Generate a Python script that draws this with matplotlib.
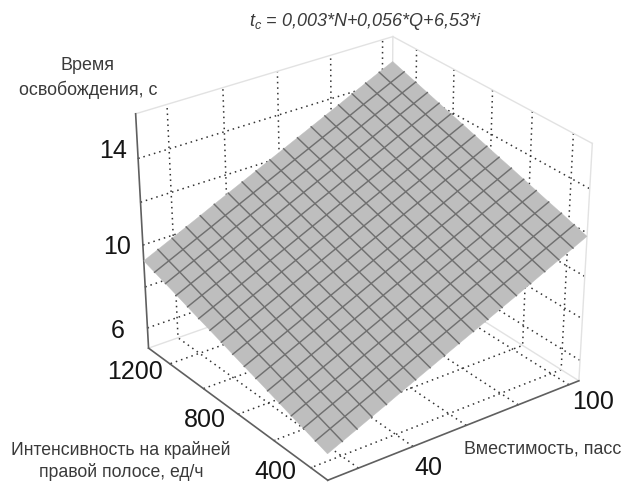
import numpy as np
import matplotlib
matplotlib.use('Agg')
import matplotlib.pyplot as plt

plt.rcParams['font.family'] = ['Liberation Sans', 'DejaVu Sans']
plt.rcParams['mathtext.fontset'] = 'custom'
plt.rcParams['mathtext.it'] = 'Liberation Sans:italic'
plt.rcParams['mathtext.rm'] = 'Liberation Sans'

q_ticks = [20, 40, 60, 80, 100]
n_ticks = [400, 600, 800, 1000, 1200]
z_ticks = [6, 8, 10, 12, 14]
q_lim = (9, 104)
n_lim = (310, 1330)
z_lim = (5, 16)

q_grid = [9, 14.28, 19.56, 24.83, 30.11, 35.39, 40.67, 45.94, 51.22, 56.5,
          61.78, 67.06, 72.33, 77.61, 82.89, 88.17, 93.44, 98.72, 104]
n_grid = [310, 373.75, 437.5, 501.25, 565, 628.75, 692.5, 756.25, 820, 883.75,
          947.5, 1011.25, 1075, 1138.75, 1202.5, 1266.25, 1330]
z_values = [
    [6.25, 6.56, 6.87, 7.18, 7.49, 7.81, 8.12, 8.43, 8.74, 9.05, 9.36, 9.67, 9.98, 10.29, 10.60, 10.92, 11.23, 11.54, 11.85],
    [6.44, 6.75, 7.06, 7.37, 7.68, 8.00, 8.31, 8.62, 8.93, 9.24, 9.55, 9.86, 10.17, 10.48, 10.79, 11.11, 11.42, 11.73, 12.04],
    [6.63, 6.94, 7.25, 7.56, 7.87, 8.19, 8.50, 8.81, 9.12, 9.43, 9.74, 10.05, 10.36, 10.67, 10.98, 11.30, 11.61, 11.92, 12.23],
    [6.81, 7.12, 7.43, 7.74, 8.05, 8.37, 8.68, 8.99, 9.30, 9.61, 9.92, 10.23, 10.54, 10.85, 11.16, 11.48, 11.79, 12.10, 12.41],
    [7.00, 7.31, 7.62, 7.93, 8.24, 8.56, 8.87, 9.18, 9.49, 9.80, 10.11, 10.42, 10.73, 11.04, 11.35, 11.67, 11.98, 12.29, 12.60],
    [7.19, 7.50, 7.81, 8.12, 8.43, 8.75, 9.06, 9.37, 9.68, 9.99, 10.30, 10.61, 10.92, 11.23, 11.54, 11.86, 12.17, 12.48, 12.79],
    [7.38, 7.69, 8.00, 8.31, 8.62, 8.94, 9.25, 9.56, 9.87, 10.18, 10.49, 10.80, 11.11, 11.42, 11.73, 12.05, 12.36, 12.67, 12.98],
    [7.56, 7.87, 8.18, 8.49, 8.80, 9.12, 9.43, 9.74, 10.05, 10.36, 10.67, 10.98, 11.29, 11.60, 11.91, 12.23, 12.54, 12.85, 13.16],
    [7.75, 8.06, 8.37, 8.68, 8.99, 9.31, 9.62, 9.93, 10.24, 10.55, 10.86, 11.17, 11.48, 11.79, 12.10, 12.42, 12.73, 13.04, 13.35],
    [7.94, 8.25, 8.56, 8.87, 9.18, 9.50, 9.81, 10.12, 10.43, 10.74, 11.05, 11.36, 11.67, 11.98, 12.29, 12.61, 12.92, 13.23, 13.54],
    [8.13, 8.44, 8.75, 9.06, 9.37, 9.69, 10.00, 10.31, 10.62, 10.93, 11.24, 11.55, 11.86, 12.17, 12.48, 12.80, 13.11, 13.42, 13.73],
    [8.31, 8.62, 8.93, 9.24, 9.55, 9.87, 10.18, 10.49, 10.80, 11.11, 11.42, 11.73, 12.04, 12.35, 12.66, 12.98, 13.29, 13.60, 13.91],
    [8.50, 8.81, 9.12, 9.43, 9.74, 10.06, 10.37, 10.68, 10.99, 11.30, 11.61, 11.92, 12.23, 12.54, 12.85, 13.17, 13.48, 13.79, 14.10],
    [8.69, 9.00, 9.31, 9.62, 9.93, 10.25, 10.56, 10.87, 11.18, 11.49, 11.80, 12.11, 12.42, 12.73, 13.04, 13.36, 13.67, 13.98, 14.29],
    [8.88, 9.19, 9.50, 9.81, 10.12, 10.44, 10.75, 11.06, 11.37, 11.68, 11.99, 12.30, 12.61, 12.92, 13.23, 13.55, 13.86, 14.17, 14.48],
    [9.06, 9.37, 9.68, 9.99, 10.30, 10.62, 10.93, 11.24, 11.55, 11.86, 12.17, 12.48, 12.79, 13.10, 13.41, 13.73, 14.04, 14.35, 14.66],
    [9.25, 9.56, 9.87, 10.18, 10.49, 10.81, 11.12, 11.43, 11.74, 12.05, 12.36, 12.67, 12.98, 13.29, 13.60, 13.92, 14.23, 14.54, 14.85],
]

W, H = 623, 483
fig = plt.figure(figsize=(W/100, H/100), dpi=100, facecolor='white')
ax = fig.add_subplot(projection='3d', computed_zorder=False)
S = 700; L = (W-S)/2; B = (H-S)/2
ax.set_position([L/W, B/H, S/W, S/H])
ax.set_xlim(*q_lim, view_margin=0)
ax.set_ylim(*n_lim, view_margin=0)
ax.set_zlim(*z_lim, view_margin=0)
ax.view_init(elev=31.762, azim=-126.540)
ax.set_proj_type('persp', focal_length=np.exp(-0.0373))
ax.set_box_aspect((1.0137, 1.0179, 1.0))
cx = (2864.79, 361.56); cy = (2545.43, 233.12)
xlo = (L-cx[1])/cx[0]; ylo = (B-cy[1])/cy[0]
ax.viewLim.intervalx = (xlo, xlo+S/cx[0])
ax.viewLim.intervaly = (ylo, ylo+S/cy[0])
ax.patch.set_alpha(0)

ax.set_xticks(q_ticks, [''] * len(q_ticks))
ax.set_yticks(n_ticks, [''] * len(n_ticks))
ax.set_zticks(z_ticks, [''] * len(z_ticks))
ax.zaxis.set_ticks_position('upper')
ax.tick_params(axis='both', colors='#555555')
for axis in (ax.xaxis, ax.yaxis, ax.zaxis):
    axis.set_pane_color((1, 1, 1, 0))
    axis.pane.set_edgecolor((1, 1, 1, 0))
    axis.line.set_color((0, 0, 0, 0))
    axis._axinfo['grid'].update(color='#333333', linewidth=1.1, linestyle=(0, (1, 2.6)))
    axis._axinfo['tick'].update(inward_factor=0.0, outward_factor=0.05)

q0, q1 = q_lim; n0, n1 = n_lim; z0, z1 = z_lim
light = '#e2e2e2'
for xs, ys, zs in [((q0, q1), (n1, n1), (z1, z1)), ((q1, q1), (n0, n1), (z1, z1)),
                   ((q0, q0), (n1, n1), (z1, z1)), ((q1, q1), (n1, n1), (z0, z1)),
                   ((q1, q1), (n0, n0), (z0, z1)), ((q0, q1), (n1, n1), (z0, z0)),
                   ((q1, q1), (n0, n1), (z0, z0))]:
    ax.plot(xs, ys, zs, color=light, lw=1.0, zorder=1)
dark = '#5f5f5f'
for xs, ys, zs in [((q0, q0), (n1, n1), (z0, z1)), ((q0, q0), (n0, n1), (z0, z0)),
                   ((q0, q1), (n0, n0), (z0, z0))]:
    ax.plot(xs, ys, zs, color=dark, lw=1.2, zorder=2)

X, Y = np.meshgrid(q_grid, n_grid)
Z = np.array(z_values)
ax.plot_surface(X, Y, Z, rstride=1, cstride=1, color='#bebebe', shade=False,
                edgecolor='#bebebe', linewidth=0.3, zorder=5)
wire = '#707070'
for j in range(1, len(n_grid)-1):
    ax.plot(X[j], Y[j], Z[j], color=wire, lw=1.05, zorder=6)
for i in range(1, len(q_grid)-1):
    ax.plot(X[:, i], Y[:, i], Z[:, i], color=wire, lw=1.05, zorder=6)

tick_text = [('14', 113, 151), ('10', 117, 246.5), ('6', 117.5, 331),
             ('1200', 135, 372), ('800', 205, 420), ('400', 275.5, 472),
             ('40', 428, 468), ('100', 593, 402)]
for s, px, py in tick_text:
    fig.text(px/W, 1-py/H, s, fontsize=18, color='#151515', ha='center', va='center')

txt = '#3a3a3a'
fig.text(249/W, 1-22/H, r'$t_c$ = 0,003*N+0,056*Q+6,53*i', style='italic', fontsize=13,
         color=txt, ha='left', va='center')
fig.text(88/W, 1-78/H, 'Время\nосвобождения, с', fontsize=12.9, color=txt, ha='center',
         va='center', linespacing=1.49)
fig.text(121/W, 1-461/H, 'Интенсивность на крайней\nправой полосе, ед/ч', fontsize=12.7,
         color=txt, ha='center', va='center', linespacing=1.3)
fig.text(542.5/W, 1-449/H, 'Вместимость, пасс', fontsize=12.9, color=txt, ha='center', va='center')
fig.savefig('out.png', dpi=100)
